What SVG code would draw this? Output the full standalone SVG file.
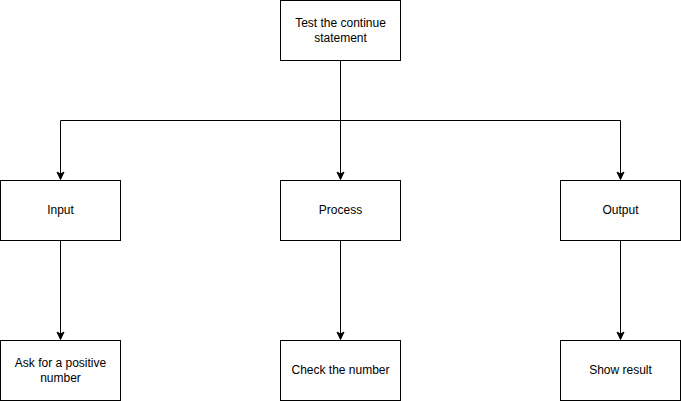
<svg xmlns="http://www.w3.org/2000/svg" width="681" height="401" viewBox="0 0 681 401">
<defs>
<style>
.box{fill:#ffffff;stroke:#000000;stroke-width:1}
.lbl{font-family:"Liberation Sans",Arial,Helvetica,sans-serif;font-size:12px;fill:#000000;text-anchor:middle}
.edge{fill:none;stroke:#000000;stroke-width:1}
</style>
<marker id="arr" markerUnits="userSpaceOnUse" markerWidth="10" markerHeight="10" viewBox="0 0 10 10" refX="9" refY="5" orient="auto">
<path d="M1.5,1.5 L9,5 L1.5,8.5 L3.5,5 Z" fill="#000000" stroke="#000000" stroke-width="1"/>
</marker>
</defs>
<rect width="681" height="401" fill="#ffffff"/>
<g id="connectors">
<path class="edge" d="M340.5,60.5 V120.5"/>
<path class="edge" d="M60.5,120.5 H620.5"/>
<path class="edge" d="M60.5,120.5 V179.5" marker-end="url(#arr)"/>
<path class="edge" d="M340.5,120.5 V179.5" marker-end="url(#arr)"/>
<path class="edge" d="M620.5,120.5 V179.5" marker-end="url(#arr)"/>
<path class="edge" d="M60.5,240.5 V339.5" marker-end="url(#arr)"/>
<path class="edge" d="M340.5,240.5 V339.5" marker-end="url(#arr)"/>
<path class="edge" d="M620.5,240.5 V339.5" marker-end="url(#arr)"/>
</g>
<g id="top">
<rect class="box" x="280.5" y="0.5" width="120" height="60"/>
<text class="lbl" x="340.5" y="27">Test the continue</text>
<text class="lbl" x="340.5" y="42">statement</text>
</g>
<g id="input">
<rect class="box" x="0.5" y="180.5" width="120" height="60"/>
<text class="lbl" x="60.5" y="214">Input</text>
</g>
<g id="process">
<rect class="box" x="280.5" y="180.5" width="120" height="60"/>
<text class="lbl" x="340.5" y="214">Process</text>
</g>
<g id="output">
<rect class="box" x="560.5" y="180.5" width="120" height="60"/>
<text class="lbl" x="620.5" y="214">Output</text>
</g>
<g id="ask">
<rect class="box" x="0.5" y="340.5" width="120" height="60"/>
<text class="lbl" x="60.5" y="367">Ask for a positive</text>
<text class="lbl" x="60.5" y="382">number</text>
</g>
<g id="check">
<rect class="box" x="280.5" y="340.5" width="120" height="60"/>
<text class="lbl" x="340.5" y="374">Check the number</text>
</g>
<g id="show">
<rect class="box" x="560.5" y="340.5" width="120" height="60"/>
<text class="lbl" x="620.5" y="374">Show result</text>
</g>
</svg>
